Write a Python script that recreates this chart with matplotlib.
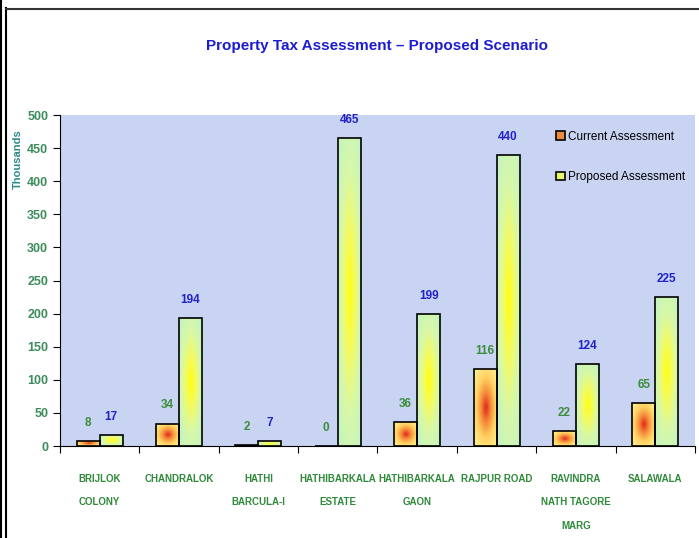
import numpy as np
import matplotlib
matplotlib.use('Agg')
from matplotlib import pyplot as plt
from matplotlib.colors import LinearSegmentedColormap
from matplotlib.patches import Patch
from matplotlib.lines import Line2D

plt.rcParams['font.family'] = ['Liberation Sans', 'DejaVu Sans']

areas = ['BRIJLOK\nCOLONY', 'CHANDRALOK', 'HATHI\nBARCULA-I', 'HATHIBARKALA\nESTATE',
         'HATHIBARKALA\nGAON', 'RAJPUR ROAD', 'RAVINDRA\nNATH TAGORE\nMARG', 'SALAWALA']
current = [8, 34, 2, 0, 36, 116, 22, 65]
proposed = [17, 194, 7, 465, 199, 440, 124, 225]

fig = plt.figure(figsize=(6.99, 5.38), dpi=100)
ax = fig.add_axes([0.0858, 0.171, 0.9085, 0.615])
ax.set_facecolor('#c8d4f2')

cmap_cur = LinearSegmentedColormap.from_list('cur', ['#e02818', '#f58a3c', '#ffd060', '#ffe98a'])
cmap_pro = LinearSegmentedColormap.from_list('pro', ['#ffff10', '#f4fb60', '#d8f8a8', '#c8f4bc'])

# radial gradient used to fill each bar
g = np.linspace(-1, 1, 60)
gx, gy = np.meshgrid(g, g)
rad = np.clip(np.sqrt(gx**2 + gy**2) / 1.2, 0, 1)

x = np.arange(len(areas))
w = 0.29

def grad_bars(xpos, vals, cmap, lab_color):
    bars = ax.bar(xpos, vals, w, facecolor='none', edgecolor='black', linewidth=1.2, zorder=3)
    for b, v in zip(bars, vals):
        if v > 0:
            im = ax.imshow(rad, cmap=cmap, vmin=0, vmax=1, aspect='auto', zorder=2,
                           extent=[b.get_x(), b.get_x() + b.get_width(), 0, v],
                           interpolation='bilinear')
            im.set_clip_path(b)
        ax.annotate(str(v), (b.get_x() + b.get_width() / 2, v), xytext=(0, 13),
                    textcoords='offset points', ha='center', va='center',
                    fontsize=8.5, fontweight='bold', color=lab_color)

grad_bars(x - w / 2, current, cmap_cur, '#3c8c3c')
grad_bars(x + w / 2, proposed, cmap_pro, '#2222c8')

ax.set_xlim(-0.5, 7.5)
ax.set_ylim(0, 500)
ax.set_yticks(range(0, 501, 50))
ax.set_xticks(np.arange(-0.5, 8, 1))
ax.set_xticklabels([])
ax.set_xticks(x, minor=True)
ax.set_xticklabels(areas, minor=True, fontsize=7, fontweight='bold', color='#2f8a3a',
                   linespacing=2.7, va='top')
ax.tick_params(axis='x', which='minor', length=0, pad=20)
ax.tick_params(axis='x', which='major', length=5, direction='out')
ax.tick_params(axis='y', length=5, labelsize=9, labelcolor='#3c8c5c')
for t in ax.get_yticklabels():
    t.set_fontweight('bold')
for s in ['top', 'right']:
    ax.spines[s].set_visible(False)
ax.set_ylabel('Thousands', fontsize=8, fontweight='bold', color='#2a8a8a')
ax.yaxis.set_label_coords(-0.058, 0.867)

ax.set_title('Property Tax Assessment \u2013 Proposed Scenario', fontsize=11,
             fontweight='bold', color='#1c1cd0', pad=47)

handles = [Patch(facecolor='#f08a3a', edgecolor='black', linewidth=1.2),
           Patch(facecolor='#e6f86c', edgecolor='black', linewidth=1.2)]
ax.legend(handles, ['Current Assessment', 'Proposed Assessment'], loc='upper left',
          bbox_to_anchor=(0.765, 0.985), frameon=False, fontsize=8.5,
          handlelength=0.7, handleheight=0.7, handletextpad=0.3, labelspacing=2.4)

# slide frame
fig.add_artist(Line2D([0.002, 0.002], [0, 1], color='black', lw=1.5))
fig.add_artist(Line2D([0.009, 0.009], [0, 0.985], color='black', lw=1.5))
fig.add_artist(Line2D([0.009, 1], [0.984, 0.984], color='#333333', lw=1.5))

fig.savefig('out.png', dpi=100)
